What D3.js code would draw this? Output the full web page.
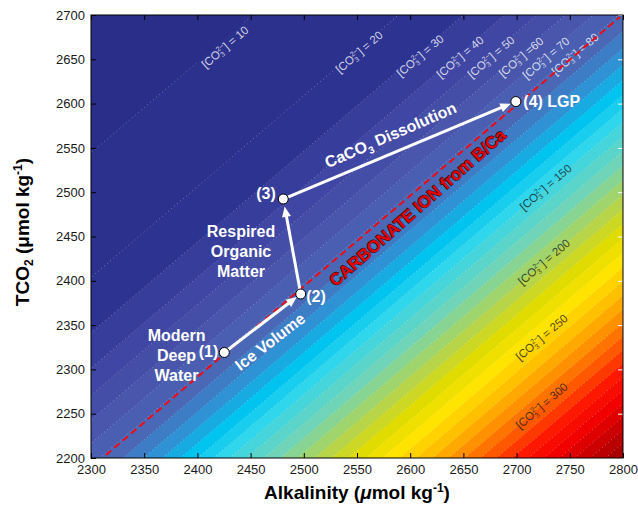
<!DOCTYPE html>
<html lang="en">
<head>
<meta charset="UTF-8">
<title>Carbonate ion: alkalinity vs TCO2</title>
<style>
    body { margin: 0; background: #fff; }
    text { font-family: "Liberation Sans", Arial, Helvetica, sans-serif; }
    .axis .domain { display: none; }
    .axis text { font-size: 13px; fill: #1a1a1a; }
    .ann { font-weight: bold; font-size: 16px; fill: #fff; }
</style>
</head>
<body>
<svg width="638" height="514"></svg>
<script src="https://d3js.org/d3.v7.min.js"></script>
<script>
// axis ticks
var alkTicks = [2300, 2350, 2400, 2450, 2500, 2550, 2600, 2650, 2700, 2750, 2800];
var tco2Ticks = [2200, 2250, 2300, 2350, 2400, 2450, 2500, 2550, 2600, 2650, 2700];

// [CO3 2-] contours (umol/kg) and the alkalinity where each crosses TCO2 = 2450
var co3Levels = [10, 20, 30, 40, 50, 60, 70, 80, 90, 100, 110, 120, 130, 140, 150, 160, 170, 180, 190, 200,
                 210, 220, 230, 240, 250, 260, 270, 280, 290, 300, 310, 320, 330, 340, 350, 360, 370, 380, 390];
var co3AlkAt2450 = [2208, 2345, 2406, 2445, 2475, 2502, 2528, 2552, 2574, 2593, 2611, 2628, 2644, 2659, 2674,
                    2690, 2706, 2722, 2738, 2754, 2770, 2786, 2802, 2818, 2834, 2849.5, 2865, 2880, 2895, 2910,
                    2925, 2940, 2955, 2969.5, 2984, 2998.5, 3013, 3027.5, 3042];
var contourSlope = 1.025;   // dTCO2/dAlk along a contour

// band colours, keyed by [CO3 2-]
var colourCo3 = [5, 25, 45, 65, 85, 105, 125, 145, 175, 205, 225, 245, 265, 285, 305, 325, 345, 365, 385];
var colourHex = ["#2b2e88", "#2c3391", "#4046a3", "#4a56ab", "#4a68b6", "#2e92d4", "#00c4f0", "#30d6ec",
                 "#70d4b8", "#b8d448", "#e0dc00", "#ffe400", "#ffc000", "#ff9000", "#ff5800", "#ff1800",
                 "#f20000", "#cc0000", "#a80000"];

// contour labels
var labelLevels = [10, 20, 30, 40, 50, 60, 70, 80, 150, 200, 250, 300];
var labelText = ["] = 10", "] = 20", "] = 30", "] = 40", "] = 50", "] =60", "] = 70", "] = 80",
                 "] = 150", "] = 200", "] = 250", "] = 300"];
var labelAlk = [2425.9, 2551.9, 2609.2, 2646.8, 2675.9, 2704.1, 2727.6, 2754.9, 2727.3, 2725.7, 2723.6, 2723.6];
var labelTco2 = [2663.9, 2658.2, 2654.1, 2652.6, 2652.6, 2652.6, 2651.5, 2656.0, 2505.5, 2421.2, 2336.2, 2259.0];

// water-mass states
var stateNames = ["(1)", "(2)", "(3)", "(4) LGP"];
var stateAlk = [2425.3, 2497.1, 2480.7, 2699.3];
var stateTco2 = [2319.1, 2385.1, 2492.3, 2602.3];

// carbonate ion line from B/Ca
var boronAlk = [2314, 2797];
var boronTco2 = [2203.4, 2697.7];

var svg = d3.select("svg");
var x = d3.scaleLinear().domain([2300, 2800]).range([91, 623]);
var y = d3.scaleLinear().domain([2200, 2700]).range([458, 15]);
var colour = d3.scaleLinear().domain(colourCo3).range(colourHex).clamp(true);
var line = d3.line().x(function(d){ return x(d[0]); }).y(function(d){ return y(d[1]); });

function contourAlk(ref, tco2){ return ref + (tco2 - 2450) / contourSlope; }

// angle of the contours on screen
var contourAngle = Math.atan2(y(2450) - y(2450 + contourSlope * 100), x(2400) - x(2300)) * 180 / Math.PI;

var defs = svg.append("defs");
defs.append("clipPath").attr("id", "plot")
  .append("rect")
    .attr("x", x(2300)).attr("y", y(2700))
    .attr("width", x(2800) - x(2300)).attr("height", y(2200) - y(2700));
var mask = defs.append("mask").attr("id", "gaps")
    .attr("maskUnits", "userSpaceOnUse")
    .attr("x", 0).attr("y", 0).attr("width", 638).attr("height", 514);
mask.append("rect").attr("width", 638).attr("height", 514).attr("fill", "#fff");

var field = svg.append("g").attr("clip-path", "url(#plot)");

field.append("rect")
    .attr("x", x(2300)).attr("y", y(2700))
    .attr("width", x(2800) - x(2300)).attr("height", y(2200) - y(2700))
    .attr("fill", colour(0));

// each contour fills everything to its right, painted in order
co3Levels.forEach(function(lev, i){
    var r = co3AlkAt2450[i];
    var pts = [[contourAlk(r, 2100), 2100], [contourAlk(r, 2800), 2800], [3400, 2800], [3400, 2100]];
    field.append("path")
        .attr("d", line(pts) + "Z")
        .attr("fill", colour(lev + 5));
});

// dotted contour lines, broken under the labels
field.append("g").attr("mask", "url(#gaps)")
  .selectAll(".cline")
    .data(co3AlkAt2450)
    .enter().append("path")
    .attr("class", "cline")
    .attr("d", function(r){ return line([[contourAlk(r, 2100), 2100], [contourAlk(r, 2800), 2800]]); })
    .attr("fill", "none")
    .attr("stroke", "#fff")
    .attr("stroke-opacity", 0.45)
    .attr("stroke-width", 0.8)
    .attr("stroke-dasharray", "1,3");

// contour labels
labelLevels.forEach(function(lev, i){
    var tr = "translate(" + x(labelAlk[i]) + "," + y(labelTco2[i]) + ") rotate(" + (-contourAngle) + ")";
    var t = field.append("text")
        .attr("transform", tr)
        .attr("text-anchor", "middle")
        .attr("dy", "0.35em")
        .attr("font-size", "11.5px")
        .attr("fill", lev < 100 ? "#fff" : "#1a1a1a")
        .attr("fill-opacity", lev < 100 ? 0.78 : 0.8);
    t.append("tspan").text("[CO");
    t.append("tspan").attr("font-size", "7px").attr("dy", 2.5).text("3");
    t.append("tspan").attr("font-size", "7px").attr("dx", -3.9).attr("dy", -7).text("2\u2212");
    t.append("tspan").attr("dy", 4.5).text(labelText[i]);
    var b = t.node().getBBox();
    mask.append("rect")
        .attr("transform", tr)
        .attr("x", b.x - 2).attr("y", b.y - 1)
        .attr("width", b.width + 4).attr("height", b.height + 2)
        .attr("fill", "#000");
});

// B/Ca carbonate ion line
svg.append("path")
    .attr("d", line(boronAlk.map(function(a, i){ return [a, boronTco2[i]]; })))
    .attr("stroke", "#f00a14")
    .attr("stroke-width", 2)
    .attr("stroke-dasharray", "7,4")
    .attr("fill", "none");

// axes
var fmt = d3.format("d");
svg.append("g").attr("class", "axis")
    .attr("transform", "translate(0," + y(2200) + ")")
    .call(d3.axisBottom(x).tickValues(alkTicks).tickFormat(fmt).tickSize(-5).tickSizeOuter(0).tickPadding(7));
svg.append("g").attr("class", "axis")
    .attr("transform", "translate(" + x(2300) + ",0)")
    .call(d3.axisLeft(y).tickValues(tco2Ticks).tickFormat(fmt).tickSize(-5).tickSizeOuter(0).tickPadding(6));
svg.append("g").attr("class", "axis")
    .attr("transform", "translate(0," + y(2700) + ")")
    .call(d3.axisTop(x).tickValues(alkTicks).tickSize(-5).tickSizeOuter(0).tickFormat(""));
svg.append("g").attr("class", "axis right")
    .attr("transform", "translate(" + x(2800) + ",0)")
    .call(d3.axisRight(y).tickValues(tco2Ticks).tickSize(-5).tickSizeOuter(0).tickFormat(""))
  .selectAll("line").attr("stroke", "#fff");

svg.append("rect")
    .attr("x", x(2300)).attr("y", y(2700))
    .attr("width", x(2800) - x(2300)).attr("height", y(2200) - y(2700))
    .attr("fill", "none").attr("stroke", "#000").attr("stroke-width", 1);

// axis titles
var xt = svg.append("text")
    .attr("x", 357).attr("y", 499)
    .attr("text-anchor", "middle")
    .attr("font-weight", "bold").attr("font-size", "19px").attr("fill", "#000");
xt.append("tspan").text("Alkalinity (");
xt.append("tspan").attr("font-style", "italic").text("\u03bc");
xt.append("tspan").text("mol kg");
xt.append("tspan").attr("font-size", "12px").attr("dy", -7).text("-1");
xt.append("tspan").attr("dy", 7).text(")");

var yt = svg.append("text")
    .attr("transform", "translate(28.5,232) rotate(-90)")
    .attr("text-anchor", "middle")
    .attr("font-weight", "bold").attr("font-size", "19px").attr("fill", "#000");
yt.append("tspan").text("TCO");
yt.append("tspan").attr("font-size", "12px").attr("dy", 4).text("2");
yt.append("tspan").attr("dy", -4).text(" (\u03bcmol kg");
yt.append("tspan").attr("font-size", "12px").attr("dy", -7).text("-1");
yt.append("tspan").attr("dy", 7).text(")");

// red label along the B/Ca line
svg.append("text")
    .attr("transform", "translate(" + x(2606.8) + "," + y(2482.7) + ") rotate(" + (-contourAngle - 0.8) + ")")
    .attr("text-anchor", "middle").attr("dy", "0.35em")
    .attr("font-weight", "bold").attr("font-size", "17px")
    .attr("fill", "#e60000").attr("stroke", "#2a0000").attr("stroke-width", 1.1)
    .attr("paint-order", "stroke")
    .text("CARBONATE ION from B/Ca");

// arrows between states
var pts = stateAlk.map(function(a, i){ return [x(a), y(stateTco2[i])]; });
var arrowG = svg.append("g");
function arrow(p0, p1, gap0, gap1){
    var dx = p1[0] - p0[0], dy = p1[1] - p0[1], L = Math.sqrt(dx * dx + dy * dy);
    var ux = dx / L, uy = dy / L;
    var s = [p0[0] + ux * gap0, p0[1] + uy * gap0];
    var tip = [p1[0] - ux * gap1, p1[1] - uy * gap1];
    var hl = 10.5, hw = 4.5;
    var base = [tip[0] - ux * hl, tip[1] - uy * hl];
    arrowG.append("line")
        .attr("x1", s[0]).attr("y1", s[1]).attr("x2", base[0] + ux * 2).attr("y2", base[1] + uy * 2)
        .attr("stroke", "#fff").attr("stroke-width", 3);
    arrowG.append("path")
        .attr("d", "M" + tip[0] + "," + tip[1] +
                   "L" + (base[0] - uy * hw) + "," + (base[1] + ux * hw) +
                   "L" + (base[0] + uy * hw) + "," + (base[1] - ux * hw) + "Z")
        .attr("fill", "#fff");
}
arrow(pts[0], pts[1], 5, 5);
arrow(pts[1], pts[2], 5, 7.5);
arrow(pts[2], pts[3], 5, 5.5);

svg.append("g").selectAll("circle")
    .data(pts)
    .enter().append("circle")
    .attr("cx", function(d){ return d[0]; })
    .attr("cy", function(d){ return d[1]; })
    .attr("r", 5)
    .attr("fill", "#fff").attr("stroke", "#000").attr("stroke-width", 1);

// state labels
var stateOffsets = [[-6, 4.5, "end"], [5.5, 7.8, "start"], [-7.5, -0.5, "end"], [7.5, 5, "start"]];
stateNames.forEach(function(n, i){
    svg.append("text").attr("class", "ann")
        .attr("x", pts[i][0] + stateOffsets[i][0])
        .attr("y", pts[i][1] + stateOffsets[i][1])
        .attr("text-anchor", stateOffsets[i][2])
        .text(n);
});

function block(lines, alk, tco2){
    var t = svg.append("text").attr("class", "ann").attr("text-anchor", "middle");
    lines.forEach(function(s, i){
        t.append("tspan").attr("x", x(alk)).attr("y", y(tco2) + i * 20.3).text(s);
    });
}
block(["Modern", "Deep", "Water"], 2380.4, 2332.4);
block(["Respired", "Organic", "Matter"], 2441, 2449.8);

function angleOf(a, b){ return Math.atan2(b[1] - a[1], b[0] - a[0]) * 180 / Math.PI; }

svg.append("text").attr("class", "ann")
    .attr("transform", "translate(" + x(2468.2) + "," + y(2331.3) + ") rotate(" + angleOf(pts[0], pts[1]) + ")")
    .attr("text-anchor", "middle").attr("dy", "0.35em")
    .text("Ice Volume");

var ct = svg.append("text").attr("class", "ann")
    .attr("transform", "translate(" + x(2581.5) + "," + y(2564.6) + ") rotate(" + (angleOf(pts[2], pts[3]) - 0.8) + ")")
    .attr("text-anchor", "middle").attr("dy", "0.35em");
ct.append("tspan").text("CaCO");
ct.append("tspan").attr("font-size", "10px").attr("dy", 4).text("3");
ct.append("tspan").attr("dy", -4).text(" Dissolution");
</script>
</body>
</html>
